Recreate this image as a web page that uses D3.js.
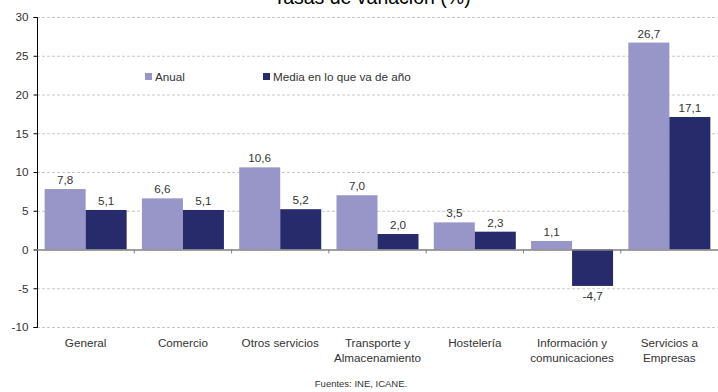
<!DOCTYPE html>
<html><head><meta charset="utf-8">
<script src="https://cdn.jsdelivr.net/npm/d3@7/dist/d3.min.js"></script>
<style>body{margin:0;background:#fff}svg{display:block;font-family:"Liberation Sans",Arial,sans-serif}</style>
</head><body><svg id="c" width="718" height="392"></svg>
<script>
const categories = [["General"],["Comercio"],["Otros servicios"],["Transporte y","Almacenamiento"],["Hostelería"],["Información y","comunicaciones"],["Servicios a","Empresas"]];
const seriesNames = ["Anual","Media en lo que va de año"];
const anual = [7.8,6.6,10.6,7.0,3.5,1.1,26.7];
const media = [5.1,5.1,5.2,2.0,2.3,-4.7,17.1];
const yTicks = [-10,-5,0,5,10,15,20,25,30];
const colors = ["#9895c8","#272a6b"];
const title = "Tasas de variación (%)";
const source = "Fuentes: INE, ICANE.";

(function(){
const svg = d3.select("#c");
const mL = 37, mR = 718, mT = 17, mB = 327;
const fs = 11.7;
const y = d3.scaleLinear().domain([-10,30]).range([mB, mT]);
const x = d3.scaleBand().domain(d3.range(categories.length)).range([mL, mR]);
const inner = d3.scaleBand().domain([0,1]).range([0, 82]);
const fmt = v => v.toFixed(1).replace(".", ",");

svg.append("text").attr("x", 372).attr("y", 3.5).attr("text-anchor","middle")
  .attr("font-size", 19.5).attr("fill","#000").text(title);

svg.append("g").selectAll("line").data(yTicks.filter(d=>d!==0)).join("line")
  .attr("x1", mL).attr("x2", mR).attr("y1", d=>y(d)+0.5).attr("y2", d=>y(d)+0.5)
  .attr("stroke","#c8c8c8").attr("stroke-dasharray","3,2");

const ya = svg.append("g").attr("transform",`translate(${mL+0.5},0)`)
  .call(d3.axisLeft(y).tickValues(yTicks).tickSize(4).tickFormat(d=>d));
ya.select(".domain").attr("stroke","#000").attr("d",`M-4,${y(30)+0.5}H0V${y(-10)+0.5}H-4`);
ya.selectAll(".tick line").attr("stroke","#000");
ya.selectAll(".tick text").attr("font-size",fs).attr("fill","#333").attr("font-family","Liberation Sans, Arial, sans-serif").attr("dx",-2);

const data = [anual, media];
data.forEach((vals, s) => {
  svg.append("g").selectAll("rect").data(vals).join("rect")
    .attr("x", (d,i)=> x(i) + (x.bandwidth()-82)/2 + inner(s))
    .attr("width", inner.bandwidth())
    .attr("y", d => y(Math.max(0,d)))
    .attr("height", d => Math.abs(y(d)-y(0)))
    .attr("fill", colors[s]);
  svg.append("g").selectAll("text").data(vals).join("text")
    .attr("x", (d,i)=> x(i) + (x.bandwidth()-82)/2 + inner(s) + inner.bandwidth()/2)
    .attr("y", d => d>=0 ? y(d)-5 : y(d)+14)
    .attr("text-anchor","middle").attr("font-size",fs).attr("fill","#333")
    .text(fmt);
});

svg.append("line").attr("x1",mL).attr("x2",mR).attr("y1",y(0)+0.5).attr("y2",y(0)+0.5)
  .attr("stroke","#808080").attr("stroke-width",1.5);
svg.append("g").selectAll("line").data(d3.range(1,categories.length)).join("line")
  .attr("x1",d=>x(d)).attr("x2",d=>x(d)).attr("y1",y(0)).attr("y2",y(0)+4)
  .attr("stroke","#808080");

categories.forEach((lines,i)=>{
  const t = svg.append("text").attr("x", x(i)+x.bandwidth()/2).attr("y", 347)
    .attr("text-anchor","middle").attr("font-size",fs).attr("fill","#333");
  lines.forEach((l,j)=> t.append("tspan").attr("x", x(i)+x.bandwidth()/2).attr("dy", j?15:0).text(l));
});

const lx = [145, 263];
seriesNames.forEach((n,i)=>{
  svg.append("rect").attr("x",lx[i]).attr("y",73).attr("width",7).attr("height",7).attr("fill",colors[i]);
  svg.append("text").attr("x",lx[i]+10).attr("y",81).attr("font-size",fs).attr("fill","#333").text(n);
});

svg.append("text").attr("x",361).attr("y",387).attr("text-anchor","middle").attr("font-size",9.5).attr("fill","#333").text(source);
})();
</script></body></html>
